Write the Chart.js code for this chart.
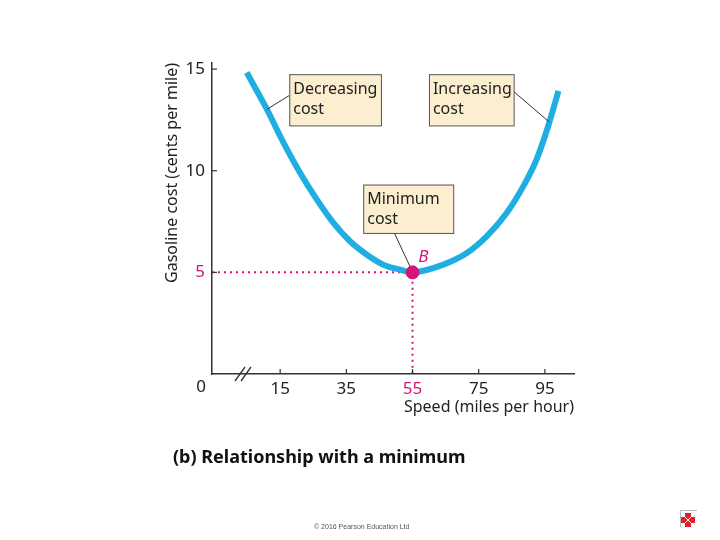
<!DOCTYPE html>
<html>
<head>
<meta charset="utf-8">
<script src="https://cdn.jsdelivr.net/npm/chart.js@4"></script>
<style>
  body { margin: 0; background: #fff; }
  #wrap { position: relative; width: 720px; height: 540px; }
  #titulo { position: absolute; left: 173px; top: 444px; font: bold 18px "Noto Sans", sans-serif; color: #111; }
  #pie { position: absolute; left: 314px; top: 523px; font: 7px "Liberation Sans", sans-serif; color: #555; }
</style>
</head>
<body>
<div id="wrap">
  <canvas id="grafico" width="720" height="540"></canvas>
  <div id="titulo">(b) Relationship with a minimum</div>
  <div id="pie">© 2016 Pearson Education Ltd</div>
</div>
<script>
// datos
const velocidades = [4.9, 11, 16, 21, 26.1, 31.1, 36.1, 41.2, 46.2, 51.3, 55, 64.3, 71.4, 77.4, 83.5, 88.5, 92.6, 96.1, 99.1];
const costos = [14.83, 13.02, 11.38, 9.9, 8.58, 7.43, 6.53, 5.87, 5.38, 5.13, 5.0, 5.38, 5.95, 6.77, 7.93, 9.24, 10.6, 12.25, 13.93];
const velMinima = 55;
const costoMinimo = 5;
const ticksX = [15, 35, 55, 75, 95];
const ticksY = [5, 10, 15];
const xMin = -5.6, xMax = 103.8;
const yMin = 0, yMax = 15.3;

const azul = "#1eaee2";
const magenta = "#d4157a";
const fuente = '"Noto Sans", sans-serif';

// cajas de texto (en coordenadas de datos)
const notas = [
  { lineas: ["Decreasing", "cost"], x: 17.75, y: 14.75, w: 27.7, h: 2.52, desde: [17.75, 13.7], hasta: [11.0, 13.02] },
  { lineas: ["Increasing", "cost"], x: 59.96, y: 14.75, w: 25.6, h: 2.52, desde: [85.56, 13.9], hasta: [96.3, 12.4] },
  { lineas: ["Minimum", "cost"], x: 40.1, y: 9.32, w: 27.2, h: 2.38, desde: [49.5, 6.94], hasta: [54.2, 5.3] },
];

// plugin para dibujar lo que no es serie: cajas, ticks hacia adentro, corte del eje
const extras = {
  id: "extras",
  afterDatasetsDraw(chart) {
    const ctx = chart.ctx;
    const sx = chart.scales.x, sy = chart.scales.y;
    const area = chart.chartArea;
    ctx.save();

    // ticks hacia adentro
    ctx.strokeStyle = "#333";
    ctx.lineWidth = 1.2;
    ticksX.forEach((v) => {
      const px = sx.getPixelForValue(v);
      ctx.beginPath(); ctx.moveTo(px, area.bottom); ctx.lineTo(px, area.bottom - 5); ctx.stroke();
    });
    ticksY.forEach((v) => {
      const py = sy.getPixelForValue(v);
      ctx.beginPath(); ctx.moveTo(area.left, py); ctx.lineTo(area.left + 5, py); ctx.stroke();
    });

    // corte del eje "//"
    const bx = area.left + 31, by = area.bottom;
    ctx.lineWidth = 1.3;
    [-3, 3].forEach((d) => {
      ctx.beginPath(); ctx.moveTo(bx + d - 5, by + 7); ctx.lineTo(bx + d + 5, by - 7); ctx.stroke();
    });

    // el "0" de la esquina
    ctx.fillStyle = "#222";
    ctx.font = "17px " + fuente;
    ctx.textAlign = "center";
    ctx.textBaseline = "middle";
    ctx.fillText("0", area.left - 11, area.bottom + 13);

    // cajas con lineas guia
    notas.forEach((n) => {
      const x0 = sx.getPixelForValue(n.x), y0 = sy.getPixelForValue(n.y);
      const x1 = sx.getPixelForValue(n.x + n.w), y1 = sy.getPixelForValue(n.y - n.h);
      ctx.strokeStyle = "#333";
      ctx.lineWidth = 1;
      ctx.beginPath();
      ctx.moveTo(sx.getPixelForValue(n.desde[0]), sy.getPixelForValue(n.desde[1]));
      ctx.lineTo(sx.getPixelForValue(n.hasta[0]), sy.getPixelForValue(n.hasta[1]));
      ctx.stroke();
      ctx.fillStyle = "#fcefcf";
      ctx.fillRect(x0, y0, x1 - x0, y1 - y0);
      ctx.strokeStyle = "#555";
      ctx.strokeRect(x0 + 0.5, y0 + 0.5, x1 - x0, y1 - y0);
      ctx.fillStyle = "#222";
      ctx.font = "16px " + fuente;
      ctx.textAlign = "left";
      ctx.textBaseline = "middle";
      n.lineas.forEach((t, i) => ctx.fillText(t, x0 + 4, y0 + 15 + i * 20));
    });

    // etiqueta B
    ctx.fillStyle = magenta;
    ctx.font = "italic 17px " + fuente;
    ctx.textAlign = "center";
    ctx.fillText("B", sx.getPixelForValue(58.3), sy.getPixelForValue(5.75));

    // logo abajo a la derecha
    ctx.strokeStyle = "#bbb";
    ctx.lineWidth = 1;
    ctx.beginPath(); ctx.moveTo(680.5, 527); ctx.lineTo(680.5, 510.5); ctx.lineTo(697, 510.5); ctx.stroke();
    ctx.fillStyle = "#e0202a";
    ctx.fillRect(685, 513, 6, 14);
    ctx.fillRect(681, 517, 14, 6);
    ctx.strokeStyle = "#fff";
    ctx.beginPath(); ctx.moveTo(685, 517); ctx.lineTo(691, 523); ctx.moveTo(691, 517); ctx.lineTo(685, 523); ctx.stroke();

    ctx.restore();
  },
};

const curva = velocidades.map((v, i) => ({ x: v, y: costos[i] }));

new Chart(document.getElementById("grafico"), {
  type: "line",
  data: {
    datasets: [
      {
        data: [{ x: velMinima, y: costoMinimo }],
        showLine: false,
        pointRadius: 6.5,
        pointBackgroundColor: magenta,
        pointBorderColor: magenta,
        order: 0,
      },
      {
        data: curva,
        borderColor: azul,
        borderWidth: 6,
        cubicInterpolationMode: "monotone",
        pointRadius: 0,
        fill: false,
        order: 1,
      },
      {
        data: [{ x: xMin, y: costoMinimo }, { x: velMinima, y: costoMinimo }, { x: velMinima, y: yMin }],
        borderColor: magenta,
        borderWidth: 2,
        borderDash: [2, 4],
        tension: 0,
        pointRadius: 0,
        fill: false,
        order: 2,
      },
    ],
  },
  options: {
    responsive: false,
    animation: false,
    layout: { padding: { left: 163, top: 63, right: 146, bottom: 123 } },
    plugins: { legend: { display: false }, tooltip: { enabled: false } },
    scales: {
      x: {
        type: "linear",
        min: xMin,
        max: xMax,
        afterBuildTicks: (s) => { s.ticks = ticksX.map((v) => ({ value: v })); },
        afterFit: (s) => { s.height = 43; },
        grid: { display: false, drawTicks: false },
        border: { display: true, color: "#333", width: 1.5 },
        ticks: {
          padding: 5,
          font: { family: "Noto Sans", size: 17 },
          color: (c) => (c.tick.value === velMinima ? magenta : "#222"),
          maxRotation: 0,
        },
        title: {
          display: true,
          text: "Speed (miles per hour)",
          align: "end",
          color: "#222",
          font: { family: "Noto Sans", size: 16 },
          padding: 0,
        },
      },
      y: {
        min: yMin,
        max: yMax,
        afterBuildTicks: (s) => { s.ticks = ticksY.map((v) => ({ value: v })); },
        afterFit: (s) => { s.width = 49; },
        grid: { display: false, drawTicks: false },
        border: { display: true, color: "#333", width: 1.5 },
        ticks: {
          padding: 7,
          font: { family: "Noto Sans", size: 17 },
          color: (c) => (c.tick.value === costoMinimo ? magenta : "#222"),
        },
        title: {
          display: true,
          text: "Gasoline cost (cents per mile)",
          align: "end",
          color: "#222",
          font: { family: "Noto Sans", size: 16 },
          padding: 0,
        },
      },
    },
  },
  plugins: [extras],
});
</script>
</body>
</html>
